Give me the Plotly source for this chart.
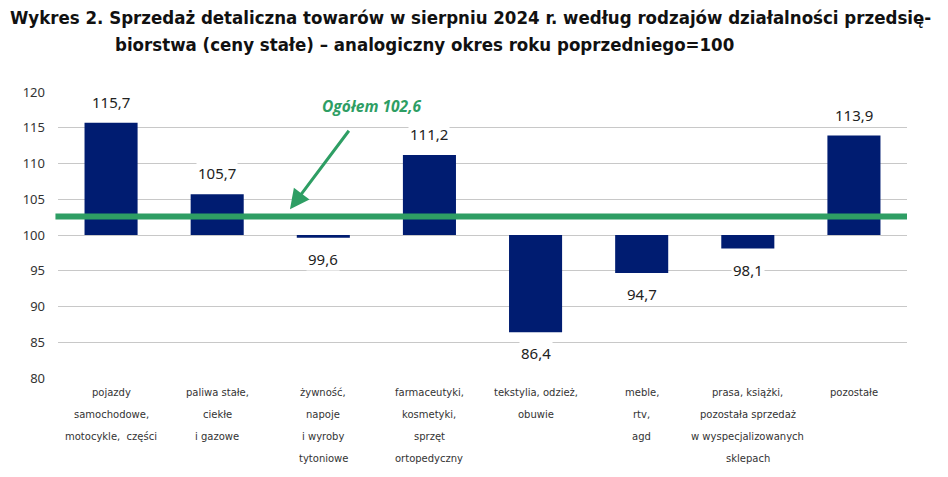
import plotly.graph_objects as go

categories = [
    "pojazdy<br>samochodowe,<br>motocykle,  części",
    "paliwa stałe,<br>ciekłe<br>i gazowe",
    "żywność,<br>napoje<br>i wyroby<br>tytoniowe",
    "farmaceutyki,<br>kosmetyki,<br>sprzęt<br>ortopedyczny",
    "tekstylia, odzież,<br>obuwie",
    "meble,<br>rtv,<br>agd",
    "prasa, książki,<br>pozostała sprzedaż<br>w wyspecjalizowanych<br>sklepach",
    "pozostałe",
]
values = [115.7, 105.7, 99.6, 111.2, 86.4, 94.7, 98.1, 113.9]
base_value = 100
total_value = 102.6
total_label = "Ogółem 102,6"
y_ticks = [80, 85, 90, 95, 100, 105, 110, 115, 120]
title_line1 = "Wykres 2. Sprzedaż detaliczna towarów w sierpniu 2024 r. według rodzajów działalności przedsię-"
title_line2 = "biorstwa (ceny stałe) – analogiczny okres roku poprzedniego=100"

NAVY = "#001c71"
GREEN = "#2e9e64"

idx = list(range(len(categories)))

fig = go.Figure()
fig.add_trace(go.Bar(
    x=idx,
    y=[v - base_value for v in values],
    base=base_value,
    width=0.5,
    marker=dict(color=NAVY, line=dict(width=0)),
    hoverinfo="skip",
))

annotations = []
# value labels
for i, v in enumerate(values):
    pos = v >= base_value
    annotations.append(dict(
        x=i, y=v, xref="x", yref="y",
        text=f"{v:.1f}".replace(".", ","),
        showarrow=False,
        yanchor="bottom" if pos else "top",
        yshift=9 if pos else -9,
        font=dict(family="Noto Sans", size=15, color="#222"),
        bgcolor="white", borderpad=1,
    ))

# category labels, one line per annotation for wide line spacing
for i, cat in enumerate(categories):
    for j, line in enumerate(cat.split("<br>")):
        annotations.append(dict(
            x=i, y=0, xref="x", yref="paper",
            text=line, showarrow=False,
            yanchor="top", yshift=-7 - 22 * j,
            font=dict(family="DejaVu Sans", size=10, color="#333"),
        ))

# arrow
annotations.append(dict(
    x=1.686, y=103.6, xref="x", yref="y",
    ax=60, ay=-80, axref="pixel", ayref="pixel",
    text="", showarrow=True,
    arrowhead=2, arrowsize=1.3, arrowwidth=3, arrowcolor=GREEN,
))
annotations.append(dict(
    x=2.46, y=118.0, xref="x", yref="y",
    text=f"<b><i>{total_label}</i></b>", showarrow=False,
    font=dict(family="Open Sans", size=15.5, color=GREEN),
))

# title
TITLE_FONT = dict(family="Liberation Sans Narrow, DejaVu Sans Condensed, Roboto", size=18.5, color="#111")
annotations.append(dict(
    x=0, y=1, xref="paper", yref="paper",
    xanchor="left", yanchor="middle", xshift=-50, yshift=75,
    text=f"<b>{title_line1}</b>", showarrow=False, font=TITLE_FONT,
))
annotations.append(dict(
    x=0, y=1, xref="paper", yref="paper",
    xanchor="left", yanchor="middle", xshift=55, yshift=48,
    text=f"<b>{title_line2}</b>", showarrow=False, font=TITLE_FONT,
))

fig.update_layout(
    width=948, height=477,
    margin=dict(l=50, r=49, t=84, b=107),
    paper_bgcolor="white", plot_bgcolor="white",
    showlegend=False,
    annotations=annotations,
    shapes=[dict(
        type="line", xref="paper", yref="y",
        x0=-0.003, x1=1.0, y0=total_value, y1=total_value,
        line=dict(color=GREEN, width=6),
    )],
    xaxis=dict(
        range=[-0.5, len(categories) - 0.5],
        showticklabels=False, showgrid=False, zeroline=False,
        showline=False,
    ),
    yaxis=dict(
        range=[80, 120], tickvals=y_ticks,
        ticktext=[str(t) for t in y_ticks],
        showgrid=True, gridcolor="#c8c8c8", gridwidth=1,
        zeroline=False, showline=False, ticks="",
        ticklabelstandoff=12,
        tickfont=dict(family="Noto Sans", size=13, color="#333"),
    ),
)

fig.write_html("out.html")
